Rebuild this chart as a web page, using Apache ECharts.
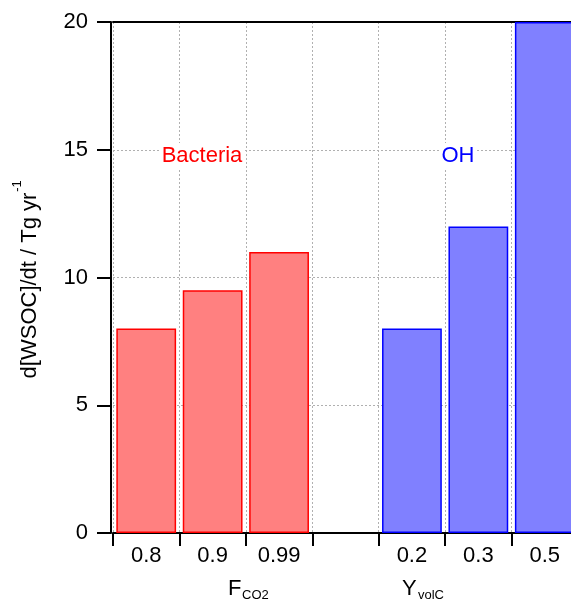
<!DOCTYPE html>
<html><head><meta charset="utf-8">
<script src="https://cdn.jsdelivr.net/npm/echarts@6/dist/echarts.min.js"></script>
<style>html,body{margin:0;padding:0;background:#fff}#c{width:571px;height:602px}</style>
</head><body><div id="c"></div>
<script>
const categories = ['0.8','0.9','0.99','','0.2','0.3','0.5'];
const bacteriaValues = [8, 9.5, 11, null, null, null, null];
const ohValues = [null, null, null, null, 8, 12, 20];
const yTicks = [0, 5, 10, 15, 20];

const FONT = '"Liberation Sans", Arial, sans-serif';
const chart = echarts.init(document.getElementById('c'), null, {renderer:'canvas'});
const grid = {left:113, top:22, right:-7, bottom:69, outerBoundsMode:'none', containLabel:false};
chart.setOption({
  animation:false,
  backgroundColor:'#fff',
  grid: grid,
  xAxis: [{
    type:'category', data: categories, position:'bottom', offset:3,
    axisLine:{show:true, lineStyle:{color:'#000', width:2}},
    axisTick:{show:true, length:13, lineStyle:{color:'#000', width:2}},
    axisLabel:{color:'#000', fontSize:22, fontFamily:FONT, margin:9},
    splitLine:{show:true, lineStyle:{color:'#b0b0b0', type:[2,2], width:1}}
  },{
    type:'category', data: categories, position:'top',
    axisLine:{show:true, lineStyle:{color:'#000', width:2}},
    axisTick:{show:false}, axisLabel:{show:false}, splitLine:{show:false}
  }],
  yAxis: {
    type:'value', min:yTicks[0], max:yTicks[yTicks.length-1], interval:5, offset:2,
    axisLine:{show:true, lineStyle:{color:'#000', width:2}},
    axisTick:{show:true, length:14, lineStyle:{color:'#000', width:2}},
    axisLabel:{color:'#000', fontSize:22, fontFamily:FONT, margin:23},
    splitLine:{show:true, lineStyle:{color:'#b0b0b0', type:[2,2], width:1}}
  },
  series: [{
    type:'bar', name:'Bacteria', data: bacteriaValues, barGap:'-100%', barCategoryGap:'10%',
    itemStyle:{color:'#FF8080', borderColor:'#FF0000', borderWidth:1.5}
  },{
    type:'bar', name:'OH', data: ohValues, barGap:'-100%', barCategoryGap:'10%',
    itemStyle:{color:'#8080FF', borderColor:'#0000FF', borderWidth:1.5}
  }],
  graphic: [
    {type:'text', x:202, y:156, z:100, style:{text:'Bacteria', fill:'#FF0000', font:'22px '+FONT, align:'center', verticalAlign:'middle', backgroundColor:'#fff', padding:[2,2]}},
    {type:'text', x:458, y:156, z:100, style:{text:'OH', fill:'#0000FF', font:'22px '+FONT, align:'center', verticalAlign:'middle', backgroundColor:'#fff', padding:[2,2]}},
    {type:'text', x:228, y:589, style:{text:'F', fill:'#000', font:'22px '+FONT, align:'left', verticalAlign:'middle'}},
    {type:'text', x:242, y:595.5, style:{text:'CO2', fill:'#000', font:'13px '+FONT, align:'left', verticalAlign:'middle'}},
    {type:'text', x:402, y:589, style:{text:'Y', fill:'#000', font:'22px '+FONT, align:'left', verticalAlign:'middle'}},
    {type:'text', x:418, y:595.5, style:{text:'volC', fill:'#000', font:'13px '+FONT, align:'left', verticalAlign:'middle'}},
    {type:'text', x:29.5, y:285.5, rotation:Math.PI/2, style:{text:'d[WSOC]/dt / Tg yr', fill:'#000', font:'22px '+FONT, align:'center', verticalAlign:'middle'}},
    {type:'text', x:17, y:186, rotation:Math.PI/2, style:{text:'-1', fill:'#000', font:'13px '+FONT, align:'center', verticalAlign:'middle'}}
  ]
});
</script></body></html>
